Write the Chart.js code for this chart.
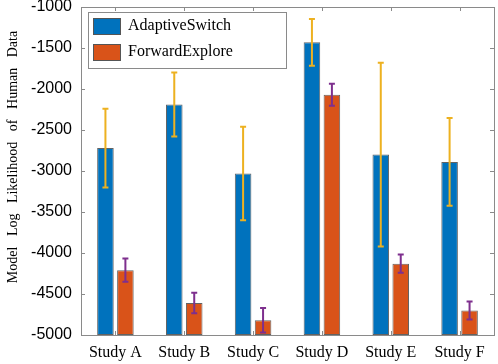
<!DOCTYPE html>
<html>
<head>
<meta charset="utf-8">
<script src="https://cdn.jsdelivr.net/npm/chart.js@4.4.1/dist/chart.umd.min.js"></script>
<style>
  html, body { margin: 0; padding: 0; background: #fff; }
  #wrap { width: 498px; height: 364px; }
</style>
</head>
<body>
<div id="wrap"><canvas id="likelihoodChart" width="498" height="364"></canvas></div>
<script>
const categories = ['Study A', 'Study B', 'Study C', 'Study D', 'Study E', 'Study F'];
const seriesNames = ['AdaptiveSwitch', 'ForwardExplore'];
const adaptiveMeans = [-2720, -2190, -3030, -1430, -2800, -2890];
const adaptiveErr = [480, 390, 570, 285, 1120, 535];
const forwardMeans = [-4210, -4610, -4820, -2070, -4130, -4700];
const forwardErr = [142, 126, 148, 134, 112, 110];
const yMin = -5000;
const yMax = -1000;
const yStep = 500;
const yTitle = 'Model   Log   Likelihood   of   Human   Data';

const barColors = ['#0072BD', '#D95319'];
const errColors = ['#EDB120', '#7E2F8E'];
const axisColor = '#8a8a8a';

// error bars, drawn from the dataset values through the y scale
const errorBars = {
  id: 'errorBars',
  afterDatasetsDraw(chart) {
    const ctx = chart.ctx;
    const y = chart.scales.y;
    const errs = [adaptiveErr, forwardErr];
    chart.data.datasets.forEach((ds, di) => {
      const meta = chart.getDatasetMeta(di);
      meta.data.forEach((bar, i) => {
        const v = ds.data[i];
        const top = y.getPixelForValue(v + errs[di][i]);
        const bot = y.getPixelForValue(v - errs[di][i]);
        ctx.save();
        ctx.strokeStyle = errColors[di];
        ctx.lineWidth = 2;
        ctx.beginPath();
        ctx.moveTo(bar.x, top);
        ctx.lineTo(bar.x, bot);
        ctx.moveTo(bar.x - 3, top);
        ctx.lineTo(bar.x + 3, top);
        ctx.moveTo(bar.x - 3, bot);
        ctx.lineTo(bar.x + 3, bot);
        ctx.stroke();
        ctx.restore();
      });
    });
  },
};

// matlab style box with inward ticks, y title and legend
const boxAndLegend = {
  id: 'boxAndLegend',
  afterDraw(chart) {
    const ctx = chart.ctx;
    const a = chart.chartArea;
    const x = chart.scales.x;
    const y = chart.scales.y;
    ctx.save();
    ctx.strokeStyle = axisColor;
    ctx.lineWidth = 1;
    ctx.strokeRect(Math.round(a.left) + 0.5, Math.round(a.top) + 0.5,
      Math.round(a.right - a.left), Math.round(a.bottom - a.top));
    ctx.beginPath();
    y.ticks.forEach((t) => {
      const py = Math.round(y.getPixelForValue(t.value)) + 0.5;
      ctx.moveTo(a.left, py);
      ctx.lineTo(a.left + 4, py);
      ctx.moveTo(a.right, py);
      ctx.lineTo(a.right - 4, py);
    });
    categories.forEach((c, i) => {
      const px = Math.round(x.getPixelForValue(i)) + 0.5;
      ctx.moveTo(px, a.top);
      ctx.lineTo(px, a.top + 4);
      ctx.moveTo(px, a.bottom);
      ctx.lineTo(px, a.bottom - 4);
    });
    ctx.stroke();

    // y axis title
    ctx.fillStyle = '#000';
    ctx.font = '14px "Liberation Serif", "Times New Roman", serif';
    ctx.textAlign = 'center';
    ctx.textBaseline = 'middle';
    ctx.translate(13, 157);
    ctx.rotate(-Math.PI / 2);
    ctx.fillText(yTitle, 0, 0);
    ctx.restore();

    // legend
    ctx.save();
    const lx = a.left + 7;
    const ly = a.top + 5;
    ctx.fillStyle = '#fff';
    ctx.fillRect(lx, ly, 198, 56);
    ctx.strokeStyle = axisColor;
    ctx.strokeRect(lx + 0.5, ly + 0.5, 198, 56);
    ctx.font = '16px "Liberation Serif", "Times New Roman", serif';
    ctx.textBaseline = 'middle';
    ctx.textAlign = 'left';
    seriesNames.forEach((name, i) => {
      const sy = ly + 6 + i * 26;
      ctx.fillStyle = barColors[i];
      ctx.fillRect(lx + 5, sy, 27, 16);
      ctx.strokeStyle = '#555';
      ctx.strokeRect(lx + 5.5, sy + 0.5, 27, 16);
      ctx.fillStyle = '#000';
      ctx.fillText(name, lx + 40, sy + 8);
    });
    ctx.restore();
  },
};

const ctx = document.getElementById('likelihoodChart').getContext('2d');
new Chart(ctx, {
  type: 'bar',
  data: {
    labels: categories,
    datasets: [
      {
        label: seriesNames[0],
        data: adaptiveMeans,
        base: yMin,
        backgroundColor: barColors[0],
        borderColor: 'rgba(60,60,60,0.8)',
        borderWidth: 1,
        borderSkipped: false,
        categoryPercentage: 0.58,
        barPercentage: 0.83,
      },
      {
        label: seriesNames[1],
        data: forwardMeans,
        base: yMin,
        backgroundColor: barColors[1],
        borderColor: 'rgba(60,60,60,0.8)',
        borderWidth: 1,
        borderSkipped: false,
        categoryPercentage: 0.58,
        barPercentage: 0.83,
      },
    ],
  },
  options: {
    responsive: false,
    animation: false,
    devicePixelRatio: 1,
    layout: { padding: { top: 7, right: 4, left: 0, bottom: 0 } },
    plugins: {
      legend: { display: false },
      tooltip: { enabled: false },
    },
    scales: {
      x: {
        grid: { display: false, drawTicks: false },
        border: { display: false },
        ticks: {
          color: '#000',
          padding: 8,
          font: { family: '"Liberation Serif", "Times New Roman", serif', size: 16 },
        },
        afterFit: (scale) => {
          scale.height = 29;
          scale.paddingLeft = 0;
          scale.paddingRight = 0;
        },
      },
      y: {
        min: yMin,
        max: yMax,
        grid: { display: false, drawTicks: false },
        border: { display: false },
        ticks: {
          stepSize: yStep,
          color: '#000',
          padding: 9,
          font: { family: '"Liberation Sans", Arial, sans-serif', size: 16 },
          callback: (v) => String(v),
        },
        afterFit: (scale) => {
          scale.width = 81;
          scale.paddingTop = 0;
          scale.paddingBottom = 0;
        },
      },
    },
  },
  plugins: [errorBars, boxAndLegend],
});
</script>
</body>
</html>
